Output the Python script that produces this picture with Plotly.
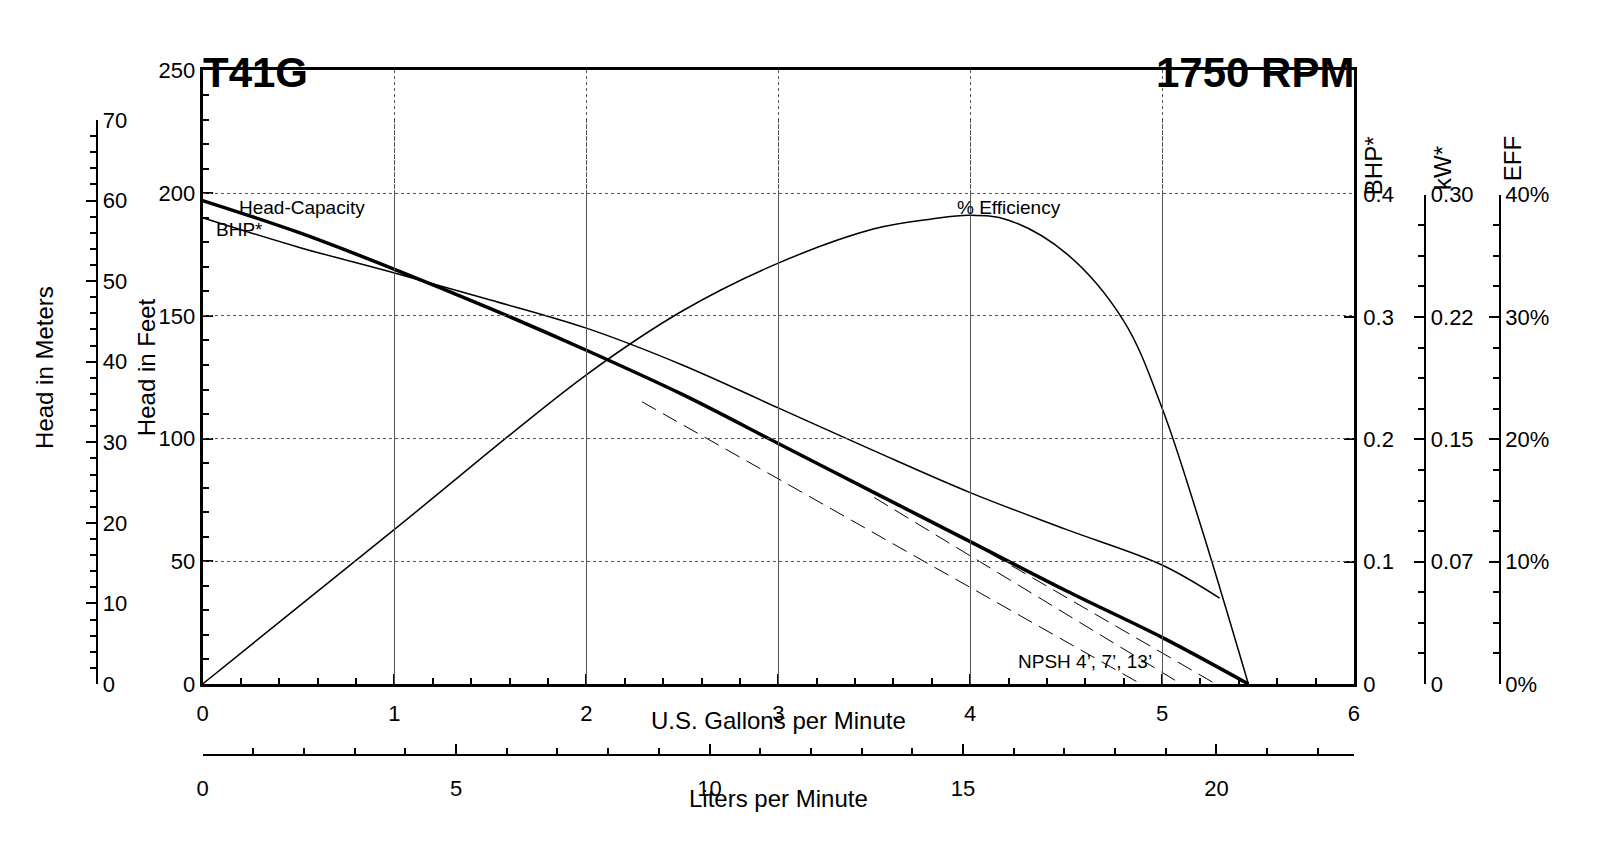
import plotly.graph_objects as go

# values
gpm = [0, 0.5, 1, 1.5, 2, 2.5, 3, 3.5, 4, 4.5, 5, 5.45]
head_ft = [197, 184, 169, 153, 136, 118, 98, 78, 58, 38, 19, 0]

bhp_gpm = [0, 0.5, 1, 1.5, 2, 2.5, 3, 3.5, 4, 4.5, 5, 5.3]
bhp = [0.380, 0.356, 0.335, 0.313, 0.290, 0.260, 0.225, 0.190, 0.156, 0.126, 0.097, 0.070]

eff_gpm = [0, 1, 2, 2.5, 3, 3.5, 3.8, 4, 4.2, 4.5, 4.8, 5, 5.2, 5.45]
eff = [0, 12.6, 25.2, 30.4, 34.3, 37.1, 37.9, 38.2, 37.8, 35.1, 29.6, 22.5, 13, 0]

npsh_lines = [
    ([2.29, 4.89], [115, 0]),
    ([3.5, 5.1], [76, 0]),
    ([4.0, 5.28], [58, 0]),
]

W, H = 1608, 855
FONT = "Liberation Sans, Arial, sans-serif"
px = lambda x: x / W
py = lambda y: 1 - y / H

fig = go.Figure()
fig.add_trace(go.Scatter(x=gpm, y=head_ft, mode="lines", line=dict(color="black", width=3.5, shape="spline")))
fig.add_trace(go.Scatter(x=bhp_gpm, y=[b * 500 for b in bhp], mode="lines",
                         line=dict(color="black", width=1.5, shape="spline")))
fig.add_trace(go.Scatter(x=eff_gpm, y=[e * 5 for e in eff], mode="lines",
                         line=dict(color="black", width=1.5, shape="spline")))
for xs, ys in npsh_lines:
    fig.add_trace(go.Scatter(x=xs, y=ys, mode="lines", line=dict(color="black", width=1, dash="16px,8px")))

# dummy traces so the extra axes get drawn
for xa, ya in [("x", "y2"), ("x", "y3"), ("x", "y4"), ("x", "y5"), ("x2", "y")]:
    fig.add_trace(go.Scatter(x=[None], y=[None], xaxis=xa, yaxis=ya, showlegend=False))

ax = dict(showline=True, linecolor="black", tickfont=dict(size=22, color="black"),
          ticks="inside", tickcolor="black", ticklen=10, tickwidth=2, zeroline=False)
minor = dict(ticks="inside", ticklen=6, tickcolor="black", tickwidth=1.5)

fig.update_layout(
    width=W, height=H, margin=dict(l=0, r=0, t=0, b=0), showlegend=False,
    plot_bgcolor="rgba(0,0,0,0)", paper_bgcolor="white", font=dict(family=FONT, color="black"),
    xaxis=dict(**ax, domain=[px(190), px(1350)], range=[0, 6], dtick=1, linewidth=3, mirror=True,
               showgrid=True, gridcolor="#555", griddash="dot", gridwidth=1, ticklabelstandoff=8,
               minor=dict(**minor, dtick=0.2), anchor="y"),
    yaxis=dict(**ax, domain=[py(684), py(52)], range=[0, 250], dtick=50, linewidth=3, mirror=True,
               showgrid=True, gridcolor="#555", griddash="dot", gridwidth=1,
               minor=dict(**minor, dtick=10), anchor="x"),
    yaxis2=dict(**ax, domain=[py(684), py(103)], range=[0, 70], dtick=10, linewidth=2,
                anchor="free", position=px(84), side="right", showgrid=False,
                minor=dict(**minor, dtick=2)),
    yaxis3=dict(**ax, domain=[py(684), py(180)], range=[0, 0.4], dtick=0.1, linewidth=0,
                anchor="free", position=px(1350), side="right", showgrid=False, ticklabelstandoff=4,
                tickvals=[0, 0.1, 0.2, 0.3, 0.4], ticktext=["0", "0.1", "0.2", "0.3", "0.4"]),
    yaxis4=dict(**ax, domain=[py(684), py(180)], range=[0, 0.3], linewidth=2,
                anchor="free", position=px(1422), side="right", showgrid=False,
                tickvals=[0, 0.075, 0.15, 0.225, 0.3], ticktext=["0", "0.07", "0.15", "0.22", "0.30"],
                minor=dict(**minor, dtick=0.01875)),
    yaxis5=dict(**ax, domain=[py(684), py(180)], range=[0, 40], linewidth=2,
                anchor="free", position=px(1497), side="right", showgrid=False,
                tickvals=[0, 10, 20, 30, 40], ticktext=["0%", "10%", "20%", "30%", "40%"],
                minor=dict(**minor, dtick=2.5)),
    xaxis2=dict(**ax, domain=[px(190), px(1350)], range=[0, 6 * 3.78541], linewidth=2,
                anchor="free", position=py(757), side="bottom", showgrid=False, ticklabelstandoff=14,
                tickvals=[0, 5, 10, 15, 20], minor=dict(**minor, dtick=1)),
)

fs = 22
ann = [
    dict(x=px(188), y=py(28), text="<b>T41G</b>", xanchor="left", font=dict(size=42)),
    dict(x=px(1352), y=py(28), text="<b>1750 RPM</b>", xanchor="right", font=dict(size=42)),
    dict(x=px(770), y=py(738), text="U.S. Gallons per Minute", font=dict(size=fs + 2)),
    dict(x=px(770), y=py(818), text="Liters per Minute", font=dict(size=fs + 2)),
    dict(x=px(15), y=py(358), text="Head in Meters", textangle=-90, font=dict(size=fs + 2)),
    dict(x=px(118), y=py(358), text="Head in Feet", textangle=-90, font=dict(size=fs + 2)),
    dict(x=px(1385), y=py(118), text="BHP*", textangle=-90, font=dict(size=fs + 2)),
    dict(x=px(1455), y=py(128), text="kW*", textangle=-90, font=dict(size=fs + 2)),
    dict(x=px(1525), y=py(118), text="EFF", textangle=-90, font=dict(size=fs + 2)),
]
for a in ann:
    a.update(xref="paper", yref="paper", showarrow=False)
    a["font"].update(family=FONT, color="black")
curve_labels = [
    (0.18, 194, "Head-Capacity", "left"),
    (0.06, 185, "BHP*", "left"),
    (4.2, 194, "% Efficiency", "center"),
    (4.6, 9, "NPSH 4’, 7’, 13’", "center"),
]
for x, y, t, xa in curve_labels:
    ann.append(dict(x=x, y=y, xref="x", yref="y", text=t, showarrow=False, xanchor=xa,
                    font=dict(family=FONT, size=19, color="black")))
fig.update_layout(annotations=ann)

fig.write_html("out.html")
